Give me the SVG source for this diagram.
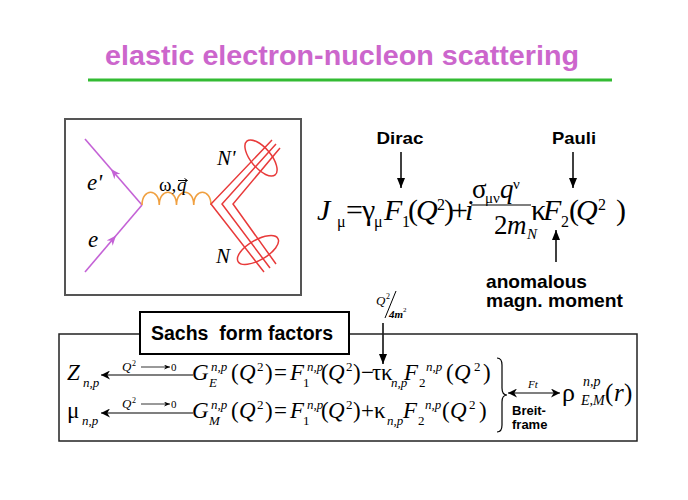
<svg xmlns="http://www.w3.org/2000/svg" width="688" height="500" viewBox="0 0 688 500">
<defs>
<style>
.t{font-family:"Liberation Serif","Times New Roman",serif;fill:#000}
.i{font-style:italic}
.b{font-family:"Liberation Sans",Arial,sans-serif;font-weight:bold;fill:#000}
.m{font-size:30px}
.ms{font-size:16px}
.n{font-size:27px}
.ns{font-size:15px}
.r{font-size:23px}
.rs{font-size:13px}
.ln{stroke:#000;stroke-width:1.5;fill:none}
.vio{stroke:#c462d6;stroke-width:1.6;fill:none}
.red{stroke:#e83a3a;stroke-width:1.5;fill:none}
</style>
<marker id="ah" viewBox="0 0 10 8" refX="10" refY="4" markerWidth="10" markerHeight="8" markerUnits="userSpaceOnUse" orient="auto"><path d="M0,0 L10,4 L0,8 z" fill="#000"/></marker>
<marker id="ch" viewBox="0 0 10 10" refX="10" refY="5" markerWidth="9" markerHeight="9" markerUnits="userSpaceOnUse" orient="auto-start-reverse"><path d="M0,0 L10,5 L0,10 L3,5 z" fill="#000"/></marker>
<marker id="sh" viewBox="0 0 10 8" refX="10" refY="4" markerWidth="6" markerHeight="5" markerUnits="userSpaceOnUse" orient="auto"><path d="M0,0 L10,4 L0,8 L3,4 z" fill="#000"/></marker>
<marker id="eh" viewBox="0 0 10 8" refX="6" refY="4" markerWidth="10" markerHeight="8" markerUnits="userSpaceOnUse" orient="auto"><path d="M0,0 L10,4 L0,8 L3,4 z" fill="#c462d6"/></marker>
</defs>
<rect width="688" height="500" fill="#fff"/>

<g id="title">
<text x="342" y="65" text-anchor="middle" textLength="474" lengthAdjust="spacingAndGlyphs" style="font-family:'Liberation Sans',Arial,sans-serif;font-weight:bold;font-size:28px;fill:#cc66cc">elastic electron-nucleon scattering</text>
<line x1="88" y1="80" x2="612" y2="80" stroke="#33bb33" stroke-width="3"/>
</g>

<g id="feynman">
<rect x="65" y="119" width="236" height="176" fill="#fff" stroke="#555" stroke-width="2"/>
<path class="vio" d="M142,205 L113.5,172 L85,139" marker-mid="url(#eh)"/>
<path class="vio" d="M85,272 L113.5,238.5 L142,205" marker-mid="url(#eh)"/>
<path d="M142,205 c0,-17 17.25,-17 17.25,0 c0,-17 17.25,-17 17.25,0 c0,-17 17.25,-17 17.25,0 c0,-17 17.25,-17 17.25,0" fill="none" stroke="#f0a040" stroke-width="1.6"/>
<path class="red" d="M272,140 L211,204 L264,272"/>
<path class="red" d="M276,144 L222,204 L270,268"/>
<path class="red" d="M280,148 L233,204 L276,264"/>
<ellipse class="red" cx="261" cy="158" rx="22" ry="10" transform="rotate(50 261 158)"/>
<ellipse class="red" cx="258" cy="250" rx="23" ry="10" transform="rotate(-30 258 250)"/>
<text class="t i" x="87" y="190" style="font-size:23px">e'</text>
<text class="t i" x="88" y="247" style="font-size:23px">e</text>
<text class="t" x="159" y="191" style="font-size:19px">ω,</text>
<text class="t i" x="177" y="191" style="font-size:19px">q</text>
<path d="M178,180.5 L187,180.5 M184.5,178.5 L187.5,180.5 L184.5,182.5" stroke="#000" stroke-width="1" fill="none"/>
<text class="t i" x="217" y="165" style="font-size:21px">N'</text>
<text class="t i" x="216" y="263" style="font-size:21px">N</text>
</g>

<g id="current">
<text class="t i m" x="317" y="220">J</text>
<text class="t ms" x="337" y="227">μ</text>
<text class="t m" x="346" y="220">=</text>
<text class="t m" x="362" y="220">γ</text>
<text class="t ms" x="374" y="227">μ</text>
<text class="t i m" x="384" y="220">F</text>
<text class="t ms" x="402" y="227">1</text>
<text class="t m" x="408" y="220">(</text>
<text class="t i m" x="416" y="220">Q</text>
<text class="t ms" x="437" y="210">2</text>
<text class="t m" x="444" y="220">)</text>
<text class="t m" x="451" y="220">+</text>
<text class="t i m" x="465" y="220">i</text>
<text class="t n" x="472" y="198">σ</text>
<text class="t ns" x="485" y="203">μν</text>
<text class="t i n" x="500" y="198">q</text>
<text class="t ns" x="513" y="189">ν</text>
<line x1="471" y1="205" x2="531" y2="205" stroke="#000" stroke-width="1.2"/>
<text class="t n" x="494" y="234">2</text>
<text class="t i n" x="507" y="234">m</text>
<text class="t i ns" x="527" y="239">N</text>
<text class="t m" x="531" y="220">κ</text>
<text class="t i m" x="543" y="220">F</text>
<text class="t ms" x="561" y="227">2</text>
<text class="t m" x="569" y="220">(</text>
<text class="t i m" x="576" y="220">Q</text>
<text class="t ms" x="598" y="210">2</text>
<text class="t m" x="616" y="220">)</text>
</g>

<g id="labels">
<text class="b" x="400" y="144" text-anchor="middle" textLength="47" lengthAdjust="spacingAndGlyphs" style="font-size:17px">Dirac</text>
<text class="b" x="574" y="144" text-anchor="middle" textLength="44" lengthAdjust="spacingAndGlyphs" style="font-size:17px">Pauli</text>
<text class="b" x="486" y="288" textLength="101" lengthAdjust="spacingAndGlyphs" style="font-size:18.5px">anomalous</text>
<text class="b" x="486" y="307" textLength="137" lengthAdjust="spacingAndGlyphs" style="font-size:18.5px">magn. moment</text>
<text class="t i" x="376" y="305" style="font-size:13px">Q</text>
<text class="t" x="386" y="299" style="font-size:8px">2</text>
<line x1="396" y1="291" x2="385" y2="318" stroke="#000" stroke-width="1"/>
<text class="t i" x="389" y="318" style="font-size:11px;font-weight:bold">4m</text>
<text class="t" x="403" y="312" style="font-size:7px">2</text>
</g>

<g id="connectors">
<line class="ln" x1="401" y1="152" x2="401" y2="188" marker-end="url(#ah)"/>
<line class="ln" x1="573" y1="152" x2="573" y2="188" marker-end="url(#ah)"/>
<line class="ln" x1="556" y1="262" x2="556" y2="230" marker-end="url(#ah)"/>
<line class="ln" x1="383" y1="323" x2="383" y2="364" marker-end="url(#ah)"/>
<line x1="193" y1="375" x2="101" y2="375" stroke="#000" stroke-width="1.2" marker-end="url(#ch)"/>
<line x1="193" y1="413" x2="101" y2="413" stroke="#000" stroke-width="1.2" marker-end="url(#ch)"/>
<line x1="141" y1="367" x2="170" y2="367" stroke="#000" stroke-width="0.8" marker-end="url(#sh)"/>
<line x1="141" y1="404" x2="170" y2="404" stroke="#000" stroke-width="0.8" marker-end="url(#sh)"/>
<line x1="508" y1="393" x2="560" y2="393" stroke="#000" stroke-width="1.2" marker-start="url(#ch)" marker-end="url(#ch)"/>
</g>

<g id="sachs">
<rect x="59" y="334" width="578" height="107" fill="none" stroke="#222" stroke-width="1.5"/>
<rect x="140" y="312" width="209" height="42" fill="#fff" stroke="#000" stroke-width="2"/>
<text class="b" x="151" y="340" textLength="182" lengthAdjust="spacingAndGlyphs" xml:space="preserve" style="font-size:19.5px">Sachs  form factors</text>
</g>

<g id="row1">
<text class="t i r" x="67" y="380">Z</text>
<text class="t i rs" x="83" y="387">n,p</text>
<text class="t i" x="122" y="371" style="font-size:13px">Q</text>
<text class="t" x="132" y="366" style="font-size:8px">2</text>
<text class="t" x="171" y="371" style="font-size:11px">0</text>
<text class="t i r" x="192" y="380">G</text>
<text class="t i rs" x="211" y="371">n,p</text>
<text class="t i rs" x="209" y="387">E</text>
<text class="t r" x="231" y="380">(</text>
<text class="t i r" x="239" y="380">Q</text>
<text class="t rs" x="257" y="371">2</text>
<text class="t r" x="265" y="380">)</text>
<text class="t r" x="274" y="380">=</text>
<text class="t i r" x="290" y="380">F</text>
<text class="t rs" x="303" y="387">1</text>
<text class="t i rs" x="307" y="371">n,p</text>
<text class="t r" x="321" y="380">(</text>
<text class="t i r" x="328" y="380">Q</text>
<text class="t rs" x="346" y="371">2</text>
<text class="t r" x="353" y="380">)</text>
<text class="t r" x="361" y="380">−</text>
<text class="t r" x="372" y="380">τ</text>
<text class="t r" x="381" y="380">κ</text>
<text class="t i rs" x="391" y="387">n,p</text>
<text class="t i r" x="404" y="380">F</text>
<text class="t rs" x="419" y="387">2</text>
<text class="t i rs" x="426" y="371">n,p</text>
<text class="t r" x="446" y="380">(</text>
<text class="t i r" x="454" y="380">Q</text>
<text class="t rs" x="474" y="371">2</text>
<text class="t r" x="483" y="380">)</text>
</g>

<g id="row2">
<text class="t r" x="67" y="418">μ</text>
<text class="t i rs" x="82" y="425">n,p</text>
<text class="t i" x="122" y="408" style="font-size:13px">Q</text>
<text class="t" x="132" y="403" style="font-size:8px">2</text>
<text class="t" x="171" y="408" style="font-size:11px">0</text>
<text class="t i r" x="192" y="418">G</text>
<text class="t i rs" x="211" y="409">n,p</text>
<text class="t i rs" x="209" y="425">M</text>
<text class="t r" x="231" y="418">(</text>
<text class="t i r" x="239" y="418">Q</text>
<text class="t rs" x="257" y="409">2</text>
<text class="t r" x="265" y="418">)</text>
<text class="t r" x="274" y="418">=</text>
<text class="t i r" x="290" y="418">F</text>
<text class="t rs" x="303" y="425">1</text>
<text class="t i rs" x="307" y="409">n,p</text>
<text class="t r" x="321" y="418">(</text>
<text class="t i r" x="328" y="418">Q</text>
<text class="t rs" x="346" y="409">2</text>
<text class="t r" x="353" y="418">)</text>
<text class="t r" x="361" y="418">+</text>
<text class="t r" x="374" y="418">κ</text>
<text class="t i rs" x="387" y="425">n,p</text>
<text class="t i r" x="403" y="418">F</text>
<text class="t rs" x="418" y="425">2</text>
<text class="t i rs" x="425" y="409">n,p</text>
<text class="t r" x="442" y="418">(</text>
<text class="t i r" x="450" y="418">Q</text>
<text class="t rs" x="469" y="409">2</text>
<text class="t r" x="479" y="418">)</text>
</g>

<g id="breit">
<path d="M497,358 Q502,358 502,365 L502,388 Q502,395 507,395 Q502,395 502,402 L502,425 Q502,432 497,432" fill="none" stroke="#000" stroke-width="1.2"/>
<text class="t i" x="528" y="388" style="font-size:11px">Ft</text>
<text class="b" x="512" y="415" style="font-size:13px">Breit-</text>
<text class="b" x="512" y="429" style="font-size:13px">frame</text>
<text class="t" x="562" y="401" style="font-size:26px">ρ</text>
<text class="t i" x="583" y="386" style="font-size:14px">n,p</text>
<text class="t i" x="581" y="405" style="font-size:14px">E,M</text>
<text class="t" x="605" y="401" style="font-size:25px">(</text>
<text class="t i" x="614" y="401" style="font-size:25px">r</text>
<text class="t" x="624" y="401" style="font-size:25px">)</text>
</g>
</svg>
